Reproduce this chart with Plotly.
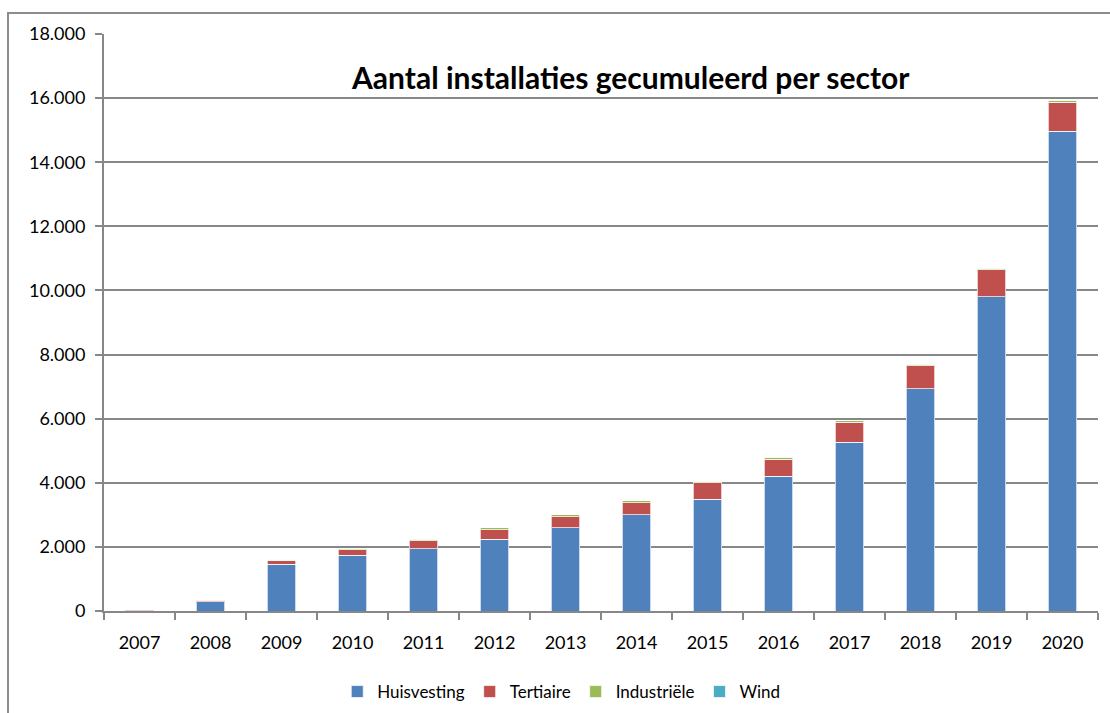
import plotly.graph_objects as go

jaren = ["2007", "2008", "2009", "2010", "2011", "2012", "2013",
         "2014", "2015", "2016", "2017", "2018", "2019", "2020"]

huisvesting = [5, 290, 1455, 1740, 1945, 2235, 2590,
               2995, 3485, 4200, 5260, 6935, 9800, 14960]
tertiaire = [40, 50, 120, 175, 250, 300, 350,
             385, 510, 540, 625, 715, 845, 915]
industriele = [0, 5, 10, 40, 50, 60, 55,
               55, 50, 60, 50, 55, 45, 60]
wind = [0, 0, 0, 0, 1, 1, 1, 2, 2, 2, 3, 3, 4, 4]

y_ticks = [0, 2000, 4000, 6000, 8000, 10000, 12000, 14000, 16000, 18000]

series = [
    ("Huisvesting", huisvesting, "#4F81BD"),
    ("Tertiaire", tertiaire, "#C0504D"),
    ("Industriële", industriele, "#9BBB59"),
    ("Wind", wind, "#4BACC6"),
]

FONT = "Lato"
GRID = "#878787"

fig = go.Figure()
for naam, waarden, kleur in series:
    fig.add_trace(go.Bar(
        x=jaren, y=waarden, name=naam,
        marker=dict(color=kleur, line=dict(color="rgba(255,255,255,0.7)", width=1)),
    ))

fig.update_layout(
    barmode="stack",
    bargap=0.6,
    width=1110, height=713,
    margin=dict(l=104, r=12, t=34, b=102, autoexpand=False),
    paper_bgcolor="white",
    plot_bgcolor="white",
    separators=",.",
    font=dict(family=FONT, size=18, color="#000000"),
    showlegend=True,
    legend=dict(
        orientation="h", x=0.46, xanchor="center",
        yref="container", y=(713 - 692) / 713, yanchor="middle",
        font=dict(family=FONT, size=17), itemwidth=30, traceorder="normal",
    ),
    annotations=[dict(
        text="<b>Aantal installaties gecumuleerd per sector</b>",
        xref="paper", yref="paper", x=0.53, y=(611 - 77) / 577,
        xanchor="center", yanchor="middle", showarrow=False,
        font=dict(family=FONT, size=30, color="#000000"),
    )],
    shapes=[dict(
        type="rect", xref="paper", yref="paper",
        x0=(8 - 104) / 994, x1=(1120 - 104) / 994,
        y0=(611 - 730) / 577, y1=(611 - 13) / 577,
        line=dict(color="#8c8c8c", width=2), fillcolor="rgba(0,0,0,0)", layer="below",
    )],
)

fig.update_xaxes(
    type="category",
    showline=True, linecolor=GRID, linewidth=2,
    ticks="outside", tickson="boundaries", ticklen=7, tickwidth=2, tickcolor=GRID,
    showgrid=False,
    ticklabelstandoff=14,
    tickfont=dict(family=FONT, size=18),
)
fig.update_yaxes(
    range=[0, 18000],
    tickvals=y_ticks, tickformat=",d",
    showline=True, linecolor=GRID, linewidth=2,
    ticks="outside", ticklen=7, tickwidth=2, tickcolor=GRID,
    showgrid=True, gridcolor=GRID, gridwidth=2,
    zeroline=False,
    ticklabelstandoff=6,
    tickfont=dict(family=FONT, size=18),
)

fig.write_html("out.html")
